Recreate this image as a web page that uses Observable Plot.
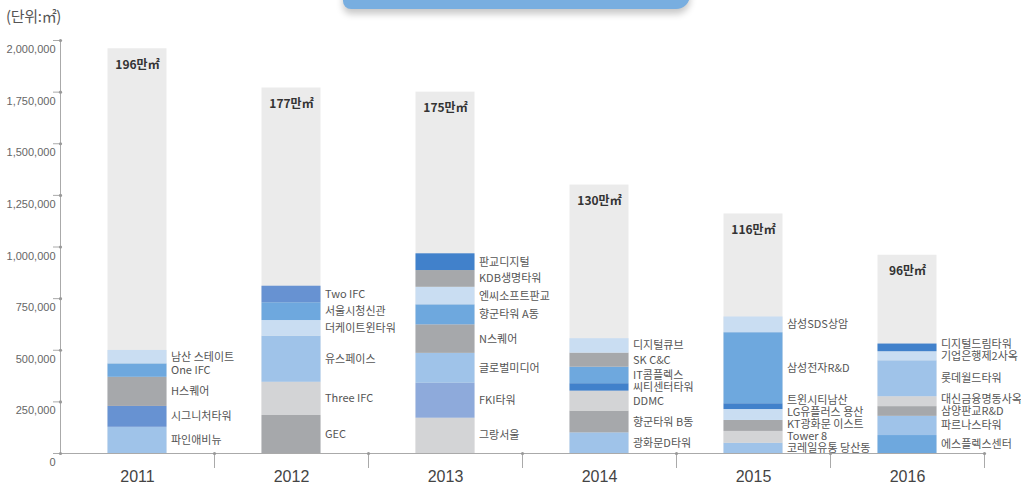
<!DOCTYPE html>
<html>
<head>
<meta charset="utf-8">
<script src="https://cdn.jsdelivr.net/npm/d3@7"></script>
<script src="https://cdn.jsdelivr.net/npm/@observablehq/plot@0.6"></script>
<style>
  html, body { margin: 0; padding: 0; background: #fff; }
  #wrap { position: relative; width: 1021px; height: 486px; overflow: hidden; }
  #unit { position: absolute; left: 6px; top: 5px; font: 15px "Noto Sans CJK KR", sans-serif; color: #555; letter-spacing: -0.3px; }
  #banner { position: absolute; left: 343px; top: -15px; width: 347px; height: 24px; background: #78aee0;
            border-radius: 0 0 14px 8px; box-shadow: 0 5px 7px rgba(0,0,0,0.22); }
  g[aria-label="seglabels"] text { letter-spacing: -0.6px; }
  g[aria-label="totlabels"] text { letter-spacing: -0.8px; }
</style>
</head>
<body>
<div id="wrap">
  <div id="banner"></div>
  <div id="unit">(단위:㎡)</div>
</div>
<script>
// ---- data ----
const years = ["2011", "2012", "2013", "2014", "2015", "2016"];
const totalsMan = [196, 177, 175, 130, 116, 96];
const yTicks = [0, 250000, 500000, 750000, 1000000, 1250000, 1500000, 1750000, 2000000];

const names2011 = ["파인애비뉴", "시그니처타워", "H스퀘어", "One IFC", "남산 스테이트"];
const values2011 = [127000, 101000, 141000, 65000, 65000];
const tones2011 = ["light", "slate", "gray", "mid", "pale"];

const names2012 = ["GEC", "Three IFC", "유스페이스", "더케이트윈타워", "서울시청신관", "Two IFC"];
const values2012 = [184000, 161000, 223000, 76000, 86000, 80000];
const tones2012 = ["gray", "lightgray", "light", "pale", "mid", "slate"];

const names2013 = ["그랑서울", "FKI타워", "글로벌미디어", "N스퀘어", "향군타워 A동", "엔씨소프트판교", "KDB생명타워", "판교디지털"];
const values2013 = [171000, 169000, 145000, 138000, 97000, 85000, 81000, 81000];
const tones2013 = ["lightgray", "periwinkle", "light", "gray", "mid", "pale", "gray", "dark"];

const names2014 = ["광화문D타워", "향군타워 B동", "DDMC", "씨티센터타워", "IT콤플렉스", "SK C&C", "디지털큐브"];
const values2014 = [100000, 105000, 97000, 36000, 80000, 68000, 70000];
const tones2014 = ["light", "gray", "lightgray", "dark", "mid", "gray", "pale"];

const names2015 = ["코레일유통 당산동", "Tower 8", "KT광화문 이스트", "LG유플러스 용산", "트윈시티남산", "삼성전자R&D", "삼성SDS상암"];
const values2015 = [50000, 57000, 53000, 53000, 28000, 344000, 76000];
const tones2015 = ["light", "lightgray", "gray", "pale", "dark", "mid", "pale"];

const names2016 = ["에스플렉스센터", "파르나스타워", "삼양판교R&D", "대신금융명동사옥", "롯데월드타워", "기업은행제2사옥", "디지털드림타워"];
const values2016 = [87000, 93000, 47000, 48000, 174000, 44000, 37000];
const tones2016 = ["mid", "light", "gray", "lightgray", "light", "pale", "dark"];

const toneKeys = ["pale", "light", "mid", "slate", "periwinkle", "dark", "gray", "lightgray"];
const toneColors = ["#c9ddf2", "#9fc3e9", "#6ea8de", "#6792d2", "#8eaadb", "#4181cb", "#a6a8ab", "#d3d4d6"];

// ---- build tables ----
const perYear = [
  [names2011, values2011, tones2011],
  [names2012, values2012, tones2012],
  [names2013, values2013, tones2013],
  [names2014, values2014, tones2014],
  [names2015, values2015, tones2015],
  [names2016, values2016, tones2016]
];
const minGap = 58000;
const segments = [];
perYear.forEach(([names, values, tones], i) => {
  let cum = 0, prev = -Infinity;
  names.forEach((name, j) => {
    const mid = cum + values[j] / 2;
    const labelY = Math.max(mid, prev + minGap);
    prev = labelY;
    cum += values[j];
    segments.push({year: years[i], name, value: values[j], tone: tones[j], labelY});
  });
});
const totals = years.map((year, i) => ({year, man: totalsMan[i], total: totalsMan[i] * 10000}));

// ---- layout ----
const W = 1021, H = 486;
const mL = 60, mR = 37, mT = 40, mB = 33;
const bandHalf = (W - mL - mR) / years.length / 2;
const barHalf = 29.5;
const inset = bandHalf - barHalf;
const kr = '"Noto Sans CJK KR", "Noto Sans", sans-serif';
const lat = '"Liberation Sans", Arial, sans-serif';

const chart = Plot.plot({
  width: W, height: H,
  marginLeft: mL, marginRight: mR, marginTop: mT, marginBottom: mB,
  style: {fontFamily: lat, background: "transparent", overflow: "visible"},
  x: {type: "band", domain: years, padding: 0, label: null},
  y: {domain: [0, 2000000], label: null},
  color: {type: "ordinal", domain: toneKeys, range: toneColors},
  marks: [
    Plot.barY(totals, {x: "year", y: "total", fill: "#ebebeb", insetLeft: inset, insetRight: inset}),
    Plot.barY(segments, {x: "year", y: "value", fill: "tone", insetLeft: inset, insetRight: inset}),
    Plot.text(segments, {x: "year", y: "labelY", text: "name", textAnchor: "start", dx: barHalf + 4,
      fontSize: 11, fill: "#555", fontFamily: kr, ariaLabel: "seglabels"}),
    Plot.text(totals, {x: "year", y: "total", text: d => d.man + "만㎡", dy: 16,
      fontSize: 12, fontWeight: 600, fill: "#333", fontFamily: kr, ariaLabel: "totlabels"}),
    Plot.frame({anchor: "left", stroke: "#aaa"}),
    Plot.ruleY([0], {stroke: "#aaa"}),
    Plot.axisY({ticks: yTicks, tickSize: 7, fill: "none", stroke: "#aaa", label: null}),
    Plot.axisY({ticks: yTicks, tickSize: 0, tickPadding: 5, dy: 9, tickFormat: d3.format(","),
      fontSize: 11, fill: "#666", label: null, fontFamily: lat}),
    Plot.dot(yTicks, {y: d => d, frameAnchor: "left", r: 1.6, fill: "#999"}),
    Plot.axisX({tickSize: 15, dx: bandHalf, fill: "none", stroke: "#aaa", label: null}),
    Plot.dot(years, {x: d => d, y: 0, dx: bandHalf, r: 1.6, fill: "#999"}),
    Plot.axisX({tickSize: 0, tickPadding: 17, fontSize: 16, fill: "#444", label: null,
      fontFamily: '"Liberation Sans Narrow", "Liberation Sans", sans-serif'})
  ]
});
document.getElementById("wrap").prepend(chart);
</script>
</body>
</html>
